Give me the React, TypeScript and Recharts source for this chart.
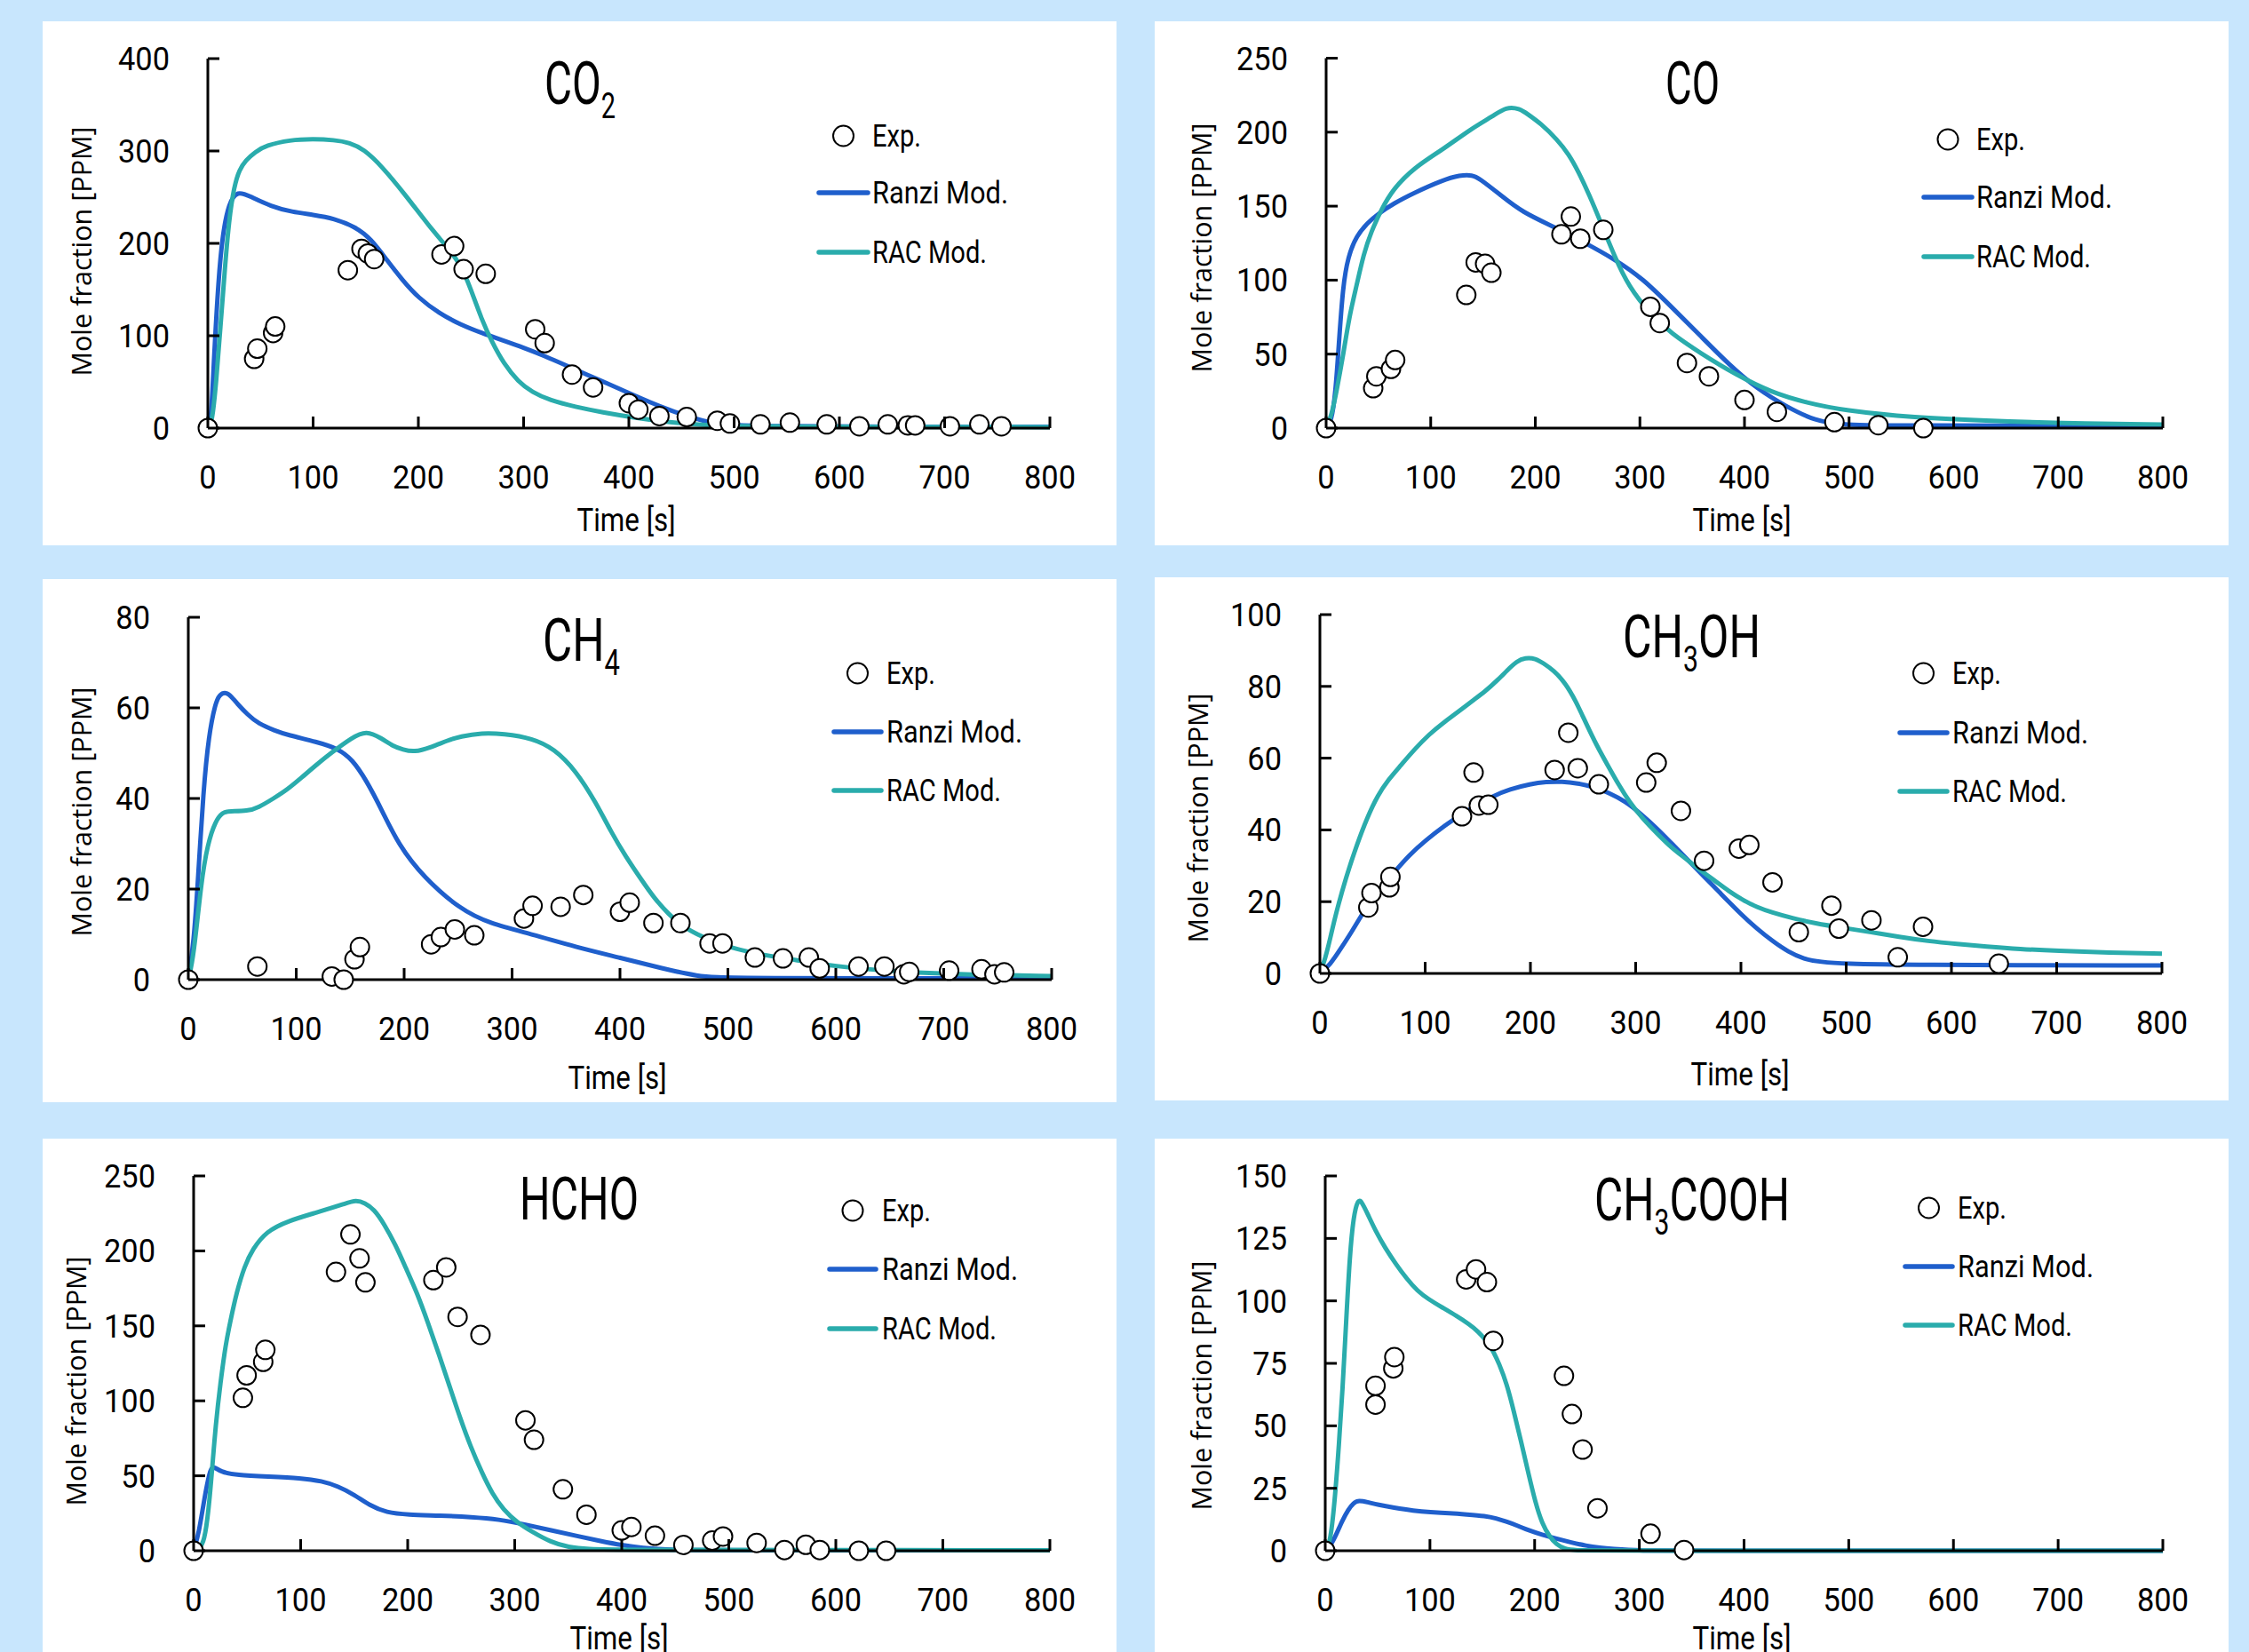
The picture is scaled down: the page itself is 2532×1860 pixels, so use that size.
import { ComposedChart, Line, Scatter, XAxis, YAxis } from "recharts";

type Pair = [number, number];

// time axis shared by all panels
const timeTicks = [0, 100, 200, 300, 400, 500, 600, 700, 800];

// CO2
const co2Ticks = [0, 100, 200, 300, 400];
const co2Exp: Pair[] = [[0, 0], [44, 75], [47, 86], [62, 103], [64, 110], [133, 171], [146, 194], [152, 189], [158, 183], [222, 188], [234, 197], [243, 172], [264, 167], [311, 107], [320, 92], [346, 58], [366, 44], [400, 27], [409, 20], [429, 13], [455, 12], [484, 8], [496, 5], [525, 4], [553, 6], [588, 4], [619, 2], [646, 4], [665, 3], [672, 3], [705, 2], [733, 4], [754, 2]];
const co2Ranzi: Pair[] = [[0, 0], [3, 5], [6, 80], [10, 160], [14, 210], [20, 244], [28, 257], [40, 251], [60, 240], [80, 234], [100, 231], [120, 227], [140, 218], [155, 205], [170, 182], [185, 160], [200, 141], [220, 124], [240, 112], [260, 103], [280, 95], [300, 87], [320, 78], [340, 68], [360, 58], [380, 48], [400, 38], [420, 28], [440, 19], [460, 11], [480, 5], [500, 3], [550, 2], [600, 1.5], [800, 1.5]];
const co2Rac: Pair[] = [[0, 0], [4, 5], [8, 50], [12, 110], [16, 170], [20, 225], [25, 262], [30, 280], [36, 290], [45, 299], [55, 306], [78, 312], [100, 313], [120, 312], [135, 309], [148, 302], [165, 284], [188, 252], [210, 219], [225, 199], [240, 178], [250, 150], [260, 118], [270, 93], [281, 70], [295, 50], [308, 39], [325, 30], [349, 23], [375, 17], [404, 11.6], [430, 7.5], [458, 4], [500, 2], [550, 1.5], [800, 1]];

// CO
const coTicks = [0, 50, 100, 150, 200, 250];
const coExp: Pair[] = [[0, 0], [45, 27], [48, 35], [62, 40], [66, 46], [134, 90], [143, 112], [152, 111], [158, 105], [225, 131], [234, 143], [243, 128], [265, 134], [310, 82], [319, 71], [345, 44], [366, 35], [400, 19], [431, 11], [486, 4], [528, 2], [571, 0]];
const coRanzi: Pair[] = [[0, 0], [5, 4], [9, 24], [12, 55], [16, 96], [21, 116], [29, 130], [40, 139], [50, 145], [65, 152], [84, 159], [111, 167.5], [128, 171], [140, 171], [146, 169], [166, 158], [187, 146], [221, 135], [248, 125], [275, 114.5], [303, 101], [330, 82], [357, 63], [385, 43], [412, 26.5], [440, 14.5], [467, 5], [494, 2], [550, 1.7], [800, 1.7]];
const coRac: Pair[] = [[0, 0], [5, 8], [10, 25], [16, 48], [22, 75], [29, 96], [36, 118], [43, 132.6], [53, 148], [64, 161.5], [84, 176], [111, 188], [139, 202.5], [160, 211], [172, 217], [185, 216], [193, 212], [205, 206], [221, 195], [232, 185], [241, 173.6], [252, 157], [262, 140], [276, 115.7], [289, 96], [310, 77], [330, 64], [358, 50.6], [392, 36], [426, 24], [460, 17], [494, 12], [563, 7], [631, 5], [699, 3.4], [800, 2.4]];

// CH4
const ch4Ticks = [0, 20, 40, 60, 80];
const ch4Exp: Pair[] = [[0, 0], [64, 2.9], [133, 0.7], [144, 0], [154, 4.5], [159, 7.2], [225, 7.8], [234, 9.4], [247, 11.1], [265, 9.8], [311, 13.5], [319, 16.3], [345, 16.1], [366, 18.7], [400, 15], [409, 17], [431, 12.5], [456, 12.5], [483, 8], [495, 8], [525, 4.9], [551, 4.7], [575, 4.9], [585, 2.5], [621, 2.9], [645, 2.9], [663, 1.2], [668, 1.7], [705, 2], [735, 2.3], [747, 1.2], [756, 1.6]];
const ch4Ranzi: Pair[] = [[0, 0], [5, 8], [9, 22], [14, 42], [19, 54], [25, 61], [29, 63], [35, 63.5], [40, 62.5], [45, 61], [55, 58.5], [65, 56.5], [80, 55], [92, 54], [119, 52.5], [139, 51], [152, 48.6], [165, 44], [179, 37.6], [195, 29.7], [218, 22.6], [252, 15.5], [279, 12.4], [319, 10], [359, 7.2], [399, 4.9], [439, 2.5], [472, 0.7], [498, 0.3], [800, 0.3]];
const ch4Rac: Pair[] = [[0, 0], [5, 5], [12, 21.8], [18, 30], [25, 35], [32, 37], [38, 37.2], [55, 37.2], [65, 38], [79, 40], [92, 42], [105, 44.6], [118, 47.3], [132, 50], [152, 53.5], [165, 55], [179, 53.3], [190, 51.5], [199, 50.8], [209, 50.2], [225, 51.3], [240, 52.8], [252, 53.7], [272, 54.5], [292, 54.3], [319, 53.3], [339, 51], [359, 46.2], [378, 39], [392, 32.5], [405, 27.3], [420, 22], [432, 17.9], [445, 14.5], [458, 11.6], [485, 8.4], [518, 6], [559, 4.5], [599, 2.9], [659, 1.7], [725, 1.1], [800, 0.8]];

// CH3OH
const ch3ohTicks = [0, 20, 40, 60, 80, 100];
const ch3ohExp: Pair[] = [[0, 0], [46, 18.4], [49, 22.4], [66, 24], [67, 26.9], [135, 43.8], [146, 56], [151, 46.8], [160, 47], [223, 56.7], [236, 67.1], [245, 57.2], [265, 52.7], [310, 53.2], [320, 58.7], [343, 45.3], [365, 31.4], [398, 34.8], [408, 35.8], [430, 25.4], [455, 11.5], [486, 18.9], [493, 12.5], [524, 14.8], [549, 4.5], [573, 13], [645, 2.7]];
const ch3ohRanzi: Pair[] = [[0, 0], [10, 2.5], [20, 7], [30, 11.5], [40, 16.5], [50, 21], [60, 24.5], [70, 28], [85, 33], [100, 37], [120, 41.5], [135, 44.5], [150, 47], [165, 49.5], [180, 51.3], [200, 52.8], [215, 53.4], [230, 53.5], [245, 53], [260, 52], [275, 50.3], [290, 48], [305, 44.5], [320, 40.5], [335, 36], [350, 31.5], [365, 27], [380, 22.5], [400, 16.5], [415, 12.5], [430, 9], [445, 6], [460, 4], [475, 3.2], [500, 2.7], [550, 2.4], [800, 2.2]];
const ch3ohRac: Pair[] = [[0, 0], [5, 4], [10, 10], [15, 16.5], [25, 27], [35, 35.8], [45, 43.5], [55, 49.7], [65, 54], [76, 57.7], [90, 62.5], [104, 66.7], [117, 69.8], [130, 72.6], [145, 76], [157, 78.6], [168, 81.5], [178, 84.5], [187, 87], [195, 88], [205, 87.8], [212, 86.5], [222, 84.5], [233, 81], [243, 76], [253, 69.6], [263, 63.5], [274, 57.7], [284, 52.5], [294, 47.8], [307, 43], [321, 38.8], [334, 35], [348, 31.9], [361, 28.8], [375, 25.9], [388, 23], [402, 20.4], [415, 18.5], [429, 17], [450, 15.3], [470, 14], [497, 12.7], [524, 11.5], [550, 10.2], [578, 9], [605, 8.2], [633, 7.5], [665, 6.8], [700, 6.3], [750, 5.8], [800, 5.5]];

// HCHO
const hchoTicks = [0, 50, 100, 150, 200, 250];
const hchoExp: Pair[] = [[0, 0], [46, 102], [49.5, 117], [65, 126], [67, 134], [133, 186], [146.5, 211], [155, 195], [160.5, 179], [224, 180.5], [236, 189], [246.6, 156], [268, 144], [310, 87], [318, 74], [345, 41], [367, 24], [400, 13.6], [409, 15.9], [431, 10], [457.6, 3.9], [484.5, 6.8], [494.6, 9.5], [526, 5.2], [552, 0.5], [572, 4], [585, 0.5], [621.5, 0], [647, 0]];
const hchoRanzi: Pair[] = [[0, 0], [5, 12], [10, 35], [15, 53], [18, 57], [25, 52.5], [40, 50.5], [70, 49.5], [100, 48.5], [120, 46.5], [135, 43], [150, 37.5], [165, 30], [180, 25.5], [200, 24], [230, 23.5], [260, 22.5], [285, 21], [310, 17.5], [335, 13.5], [360, 9.5], [380, 6.5], [400, 3.7], [420, 1.8], [440, 0.8], [470, 0.4], [500, 0.3], [800, 0.3]];
const hchoRac: Pair[] = [[0, 0], [5, 1], [10, 6], [14, 27], [17, 52], [20.6, 84], [25, 112], [30, 138], [34, 152], [40, 172], [47.6, 190], [55, 201], [67.7, 213], [88, 220], [115, 225.6], [141.6, 231.5], [151.6, 234], [160, 232], [168.5, 227.8], [178, 218], [188.7, 204], [198, 189], [208.8, 172], [219, 152], [229, 131.5], [239, 110], [249, 88.4], [259, 69], [269.4, 52], [279, 38], [289.6, 27.2], [302, 19], [316.5, 12.5], [333, 6], [350, 2.3], [370, 1], [390, 0.5], [800, 0.3]];

// CH3COOH
const ch3coohTicks = [0, 25, 50, 75, 100, 125, 150];
const ch3coohExp: Pair[] = [[0, 0], [48, 58.5], [48, 66], [65, 73], [66, 77.5], [134.6, 108.6], [144, 112.6], [154.4, 107.5], [160.5, 84], [228, 70], [235.6, 54.7], [245.8, 40.5], [260, 17], [310.7, 6.8], [342.7, 0.3]];
const ch3coohRanzi: Pair[] = [[0, 0], [5, 2], [10, 6], [16.4, 12.2], [22, 16.5], [27, 19.2], [32, 20.2], [40, 19.5], [50.6, 18.4], [65, 17.3], [84.7, 16], [100, 15.4], [119, 15], [135, 14.5], [153, 13.9], [163, 13], [173.5, 11.6], [184, 10], [194, 8.2], [207, 6.4], [221, 4.8], [235, 3.3], [249, 2], [262, 1.2], [276, 0.7], [290, 0.3], [303, 0.1], [320, 0], [800, 0]];
const ch3coohRac: Pair[] = [[0, 0], [5, 3], [9.7, 23], [13, 42], [16.5, 64], [20, 92], [23.4, 118], [27, 134], [31.5, 141], [35, 139.5], [40.3, 135], [48, 128], [57.5, 121], [67, 115], [77.9, 108.8], [88, 104], [98.4, 100.7], [112, 97.3], [125.7, 93.9], [137, 90.8], [146.2, 87.7], [153, 84.5], [159.9, 80.3], [166, 75], [173.5, 66.7], [180, 56], [187.2, 43.5], [194, 31], [200.9, 19], [207, 11], [214.5, 5.4], [221, 2.5], [228, 0.7], [240, 0.1], [260, 0], [800, 0]];

const BG = "#c8e6fd";
const BLUE = "#1f5fcc";
const TEAL = "#2aacac";
const CONDENSED = "Roboto, 'Liberation Sans', sans-serif";
const PANEL_W = 1209;

const toPts = (a: Pair[]) => a.map(([x, y]) => ({ x, y }));

const XTick = (props: any) => {
  const { x, y, payload } = props;
  return (
    <g>
      <line x1={x} y1={y} x2={x} y2={y - 13} stroke="#000" strokeWidth={3} />
      <text transform={`translate(${x},${y + 68}) scale(0.93,1)`} textAnchor="middle" fontSize={37} fontFamily={CONDENSED} fill="#000">
        {payload.value}
      </text>
    </g>
  );
};

const YTick = (props: any) => {
  const { x, y, payload } = props;
  return (
    <g>
      <line x1={x} y1={y} x2={x + 13} y2={y} stroke="#000" strokeWidth={3} />
      <text transform={`translate(${x - 43},${y + 13}) scale(0.93,1)`} textAnchor="end" fontSize={37} fontFamily={CONDENSED} fill="#000">
        {payload.value}
      </text>
    </g>
  );
};

const ExpDot = (props: any) => (
  <circle cx={props.cx} cy={props.cy} r={10.5} fill="#fff" stroke="#000" strokeWidth={2} />
);

type Seg = [string, boolean];

interface PanelCfg {
  left: number;
  top: number;
  h: number;
  plot: { l: number; r: number; t: number; b: number };
  title: { segs: Seg[]; x: number; w: number; base: number };
  ylab: { x: number; y: number };
  xlab: { x: number; base: number };
  legend: { x1: number; x2: number; tx: number; rows: number[] };
}

function Title({ segs, x, w, base }: PanelCfg["title"]) {
  let shift = 0;
  return (
    <text x={x} y={base} textLength={w} lengthAdjust="spacingAndGlyphs" fontFamily={CONDENSED} fontSize={66} fill="#000">
      {segs.map(([s, sub], i) => {
        const target = sub ? 16 : 0;
        const dy = target - shift;
        shift = target;
        return (
          <tspan key={i} dy={dy} fontSize={sub ? 40 : 66}>
            {s}
          </tspan>
        );
      })}
    </text>
  );
}

function Panel({ cfg, exp, ranzi, rac, yTicks }: { cfg: PanelCfg; exp: Pair[]; ranzi: Pair[]; rac: Pair[]; yTicks: number[] }) {
  const { left, top, h, plot, title, ylab, xlab, legend } = cfg;
  const lc = (legend.x1 + legend.x2) / 2;
  return (
    <div style={{ position: "absolute", left, top, width: PANEL_W, height: h, background: "#fff", overflow: "hidden" }}>
      <ComposedChart width={PANEL_W} height={h} margin={{ top: plot.t, right: PANEL_W - plot.r, bottom: 0, left: 0 }}>
        <XAxis
          type="number"
          dataKey="x"
          domain={[0, 800]}
          ticks={timeTicks}
          interval={0}
          height={h - plot.b}
          tickSize={0}
          tickMargin={0}
          tickLine={false}
          tick={(p: any) => <XTick {...p} />}
          axisLine={{ stroke: "#000", strokeWidth: 3 }}
        />
        <YAxis
          type="number"
          dataKey="y"
          domain={[0, yTicks[yTicks.length - 1]]}
          ticks={yTicks}
          interval={0}
          width={plot.l}
          tickSize={0}
          tickMargin={0}
          tickLine={false}
          tick={(p: any) => <YTick {...p} />}
          axisLine={{ stroke: "#000", strokeWidth: 3 }}
        />
        <Line data={toPts(ranzi)} dataKey="y" type="basis" stroke={BLUE} strokeWidth={5} dot={false} isAnimationActive={false} />
        <Line data={toPts(rac)} dataKey="y" type="basis" stroke={TEAL} strokeWidth={5} dot={false} isAnimationActive={false} />
        <Scatter data={toPts(exp)} dataKey="y" shape={(p: any) => <ExpDot {...p} />} isAnimationActive={false} />
      </ComposedChart>
      <svg width={PANEL_W} height={h} style={{ position: "absolute", left: 0, top: 0, pointerEvents: "none" }}>
        <Title {...title} />
        <text transform={`translate(${ylab.x},${ylab.y}) rotate(-90)`} textAnchor="middle" fontFamily="'Open Sans', sans-serif" fontSize={31} textLength={281} lengthAdjust="spacingAndGlyphs" fill="#000">
          Mole fraction [PPM]
        </text>
        <text x={xlab.x - 55.5} y={xlab.base} textLength={111} lengthAdjust="spacingAndGlyphs" fontFamily={CONDENSED} fontSize={36} fill="#000">
          Time [s]
        </text>
        <circle cx={lc} cy={legend.rows[0]} r={11.5} fill="#fff" stroke="#000" strokeWidth={2} />
        <text x={legend.tx} y={legend.rows[0] + 12} textLength={55} lengthAdjust="spacingAndGlyphs" fontFamily={CONDENSED} fontSize={35} fill="#000">
          Exp.
        </text>
        <line x1={legend.x1} x2={legend.x2} y1={legend.rows[1]} y2={legend.rows[1]} stroke={BLUE} strokeWidth={5.5} strokeLinecap="round" />
        <text x={legend.tx} y={legend.rows[1] + 12} textLength={153} lengthAdjust="spacingAndGlyphs" fontFamily={CONDENSED} fontSize={35} fill="#000">
          Ranzi Mod.
        </text>
        <line x1={legend.x1} x2={legend.x2} y1={legend.rows[2]} y2={legend.rows[2]} stroke={TEAL} strokeWidth={5.5} strokeLinecap="round" />
        <text x={legend.tx} y={legend.rows[2] + 12} textLength={129} lengthAdjust="spacingAndGlyphs" fontFamily={CONDENSED} fontSize={35} fill="#000">
          RAC Mod.
        </text>
      </svg>
    </div>
  );
}

const p1: PanelCfg = {
  left: 48, top: 24, h: 590,
  plot: { l: 186, r: 1134, t: 42, b: 458 },
  title: { segs: [["CO", false], ["2", true]], x: 565, w: 80, base: 93 },
  ylab: { x: 55, y: 259 },
  xlab: { x: 657, base: 574 },
  legend: { x1: 874, x2: 929, tx: 934, rows: [129, 193, 260] },
};
const p2: PanelCfg = {
  left: 1300, top: 24, h: 590,
  plot: { l: 193, r: 1135, t: 41.5, b: 458 },
  title: { segs: [["CO", false]], x: 575, w: 61, base: 92.5 },
  ylab: { x: 64, y: 255 },
  xlab: { x: 661, base: 574 },
  legend: { x1: 866, x2: 920, tx: 925, rows: [133, 198, 265] },
};
const p3: PanelCfg = {
  left: 48, top: 652, h: 589,
  plot: { l: 164, r: 1136, t: 43, b: 451 },
  title: { segs: [["CH", false], ["4", true]], x: 563, w: 87, base: 92 },
  ylab: { x: 55, y: 262 },
  xlab: { x: 647, base: 574 },
  legend: { x1: 891, x2: 944, tx: 950, rows: [106, 172, 238] },
};
const p4: PanelCfg = {
  left: 1300, top: 650, h: 589,
  plot: { l: 186, r: 1134, t: 42, b: 446 },
  title: { segs: [["CH", false], ["3", true], ["OH", false]], x: 527, w: 155, base: 90 },
  ylab: { x: 60, y: 271 },
  xlab: { x: 659, base: 572 },
  legend: { x1: 839, x2: 892, tx: 898, rows: [108, 175, 241] },
};
const p5: PanelCfg = {
  left: 48, top: 1282, h: 578,
  plot: { l: 170, r: 1134, t: 42, b: 464 },
  title: { segs: [["HCHO", false]], x: 537, w: 134, base: 91 },
  ylab: { x: 49, y: 273 },
  xlab: { x: 649, base: 575 },
  legend: { x1: 886, x2: 938, tx: 945, rows: [81, 147, 214] },
};
const p6: PanelCfg = {
  left: 1300, top: 1282, h: 578,
  plot: { l: 192, r: 1135, t: 42, b: 464 },
  title: { segs: [["CH", false], ["3", true], ["COOH", false]], x: 495, w: 220, base: 92 },
  ylab: { x: 64, y: 278 },
  xlab: { x: 661, base: 575 },
  legend: { x1: 845, x2: 898, tx: 904, rows: [78, 144, 210] },
};

export default function App() {
  return (
    <div style={{ position: "absolute", left: 0, top: 0, width: 2532, height: 1860, background: BG, overflow: "hidden" }}>
      <Panel cfg={p1} exp={co2Exp} ranzi={co2Ranzi} rac={co2Rac} yTicks={co2Ticks} />
      <Panel cfg={p2} exp={coExp} ranzi={coRanzi} rac={coRac} yTicks={coTicks} />
      <Panel cfg={p3} exp={ch4Exp} ranzi={ch4Ranzi} rac={ch4Rac} yTicks={ch4Ticks} />
      <Panel cfg={p4} exp={ch3ohExp} ranzi={ch3ohRanzi} rac={ch3ohRac} yTicks={ch3ohTicks} />
      <Panel cfg={p5} exp={hchoExp} ranzi={hchoRanzi} rac={hchoRac} yTicks={hchoTicks} />
      <Panel cfg={p6} exp={ch3coohExp} ranzi={ch3coohRanzi} rac={ch3coohRac} yTicks={ch3coohTicks} />
    </div>
  );
}
